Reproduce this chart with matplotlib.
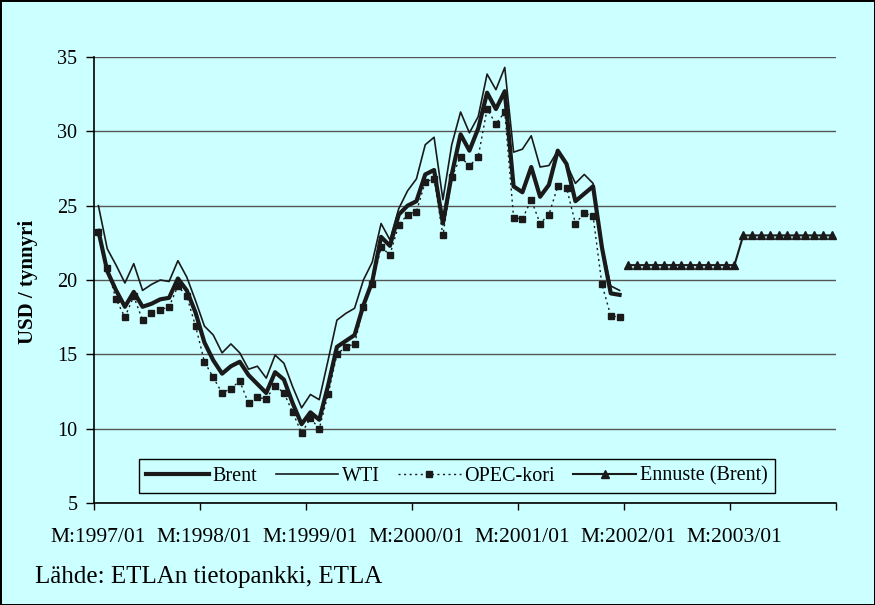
import numpy as np
import matplotlib
matplotlib.use("Agg")
import matplotlib.pyplot as plt
from matplotlib.ticker import FixedLocator, NullFormatter

# Monthly data, 1997/01 - 2001/12 (USD / barrel)
brent = [23.3, 20.6, 19.3, 18.2, 19.2, 18.2, 18.4, 18.7, 18.8, 20.1, 19.3, 17.8,
         15.8, 14.6, 13.7, 14.2, 14.5, 13.6, 13.0, 12.4, 13.8, 13.3, 11.7, 10.3,
         11.1, 10.6, 12.9, 15.5, 15.9, 16.3, 18.3, 19.9, 22.9, 22.3, 24.4, 25.0,
         25.3, 27.1, 27.4, 23.8, 27.1, 29.8, 28.7, 30.2, 32.6, 31.5, 32.7, 26.3,
         25.9, 27.6, 25.6, 26.4, 28.7, 27.8, 25.3, 25.8, 26.3, 22.2, 19.1, 19.0]
wti = [25.0, 22.1, 21.0, 19.8, 21.1, 19.3, 19.7, 20.0, 19.9, 21.3, 20.2, 18.6,
       16.9, 16.3, 15.1, 15.7, 15.1, 14.0, 14.2, 13.4, 14.95, 14.4, 12.8, 11.4,
       12.3, 11.95, 14.6, 17.3, 17.75, 18.1, 20.0, 21.2, 23.8, 22.7, 24.8, 26.0,
       26.8, 29.1, 29.6, 25.4, 29.1, 31.3, 29.9, 31.0, 33.85, 32.8, 34.3, 28.6,
       28.8, 29.7, 27.6, 27.7, 28.7, 27.8, 26.5, 27.1, 26.5, 22.3, 19.6, 19.3]
opec = [23.2, 20.8, 18.7, 17.5, 18.9, 17.3, 17.8, 18.0, 18.2, 19.6, 18.9, 16.9,
        14.5, 13.45, 12.4, 12.7, 13.2, 11.7, 12.1, 12.0, 12.9, 12.4, 11.1, 9.7,
        10.7, 10.0, 12.3, 15.0, 15.5, 15.7, 18.2, 19.7, 22.2, 21.7, 23.7, 24.4,
        24.6, 26.6, 26.8, 23.0, 26.9, 28.3, 27.65, 28.3, 31.5, 30.5, 31.3, 24.2,
        24.1, 25.4, 23.8, 24.4, 26.3, 26.2, 23.8, 24.5, 24.3, 19.7, 17.6, 17.5]
# Forecast 2002/01 - 2003/12
ennuste = [21.0] * 13 + [23.0] * 11

years = list(range(1997, 2004))
tick_labels = [f"M:{y}/01" for y in years]
n_months = 12 * len(years)

bg = "#CCFFFF"
font = ["Liberation Serif", "DejaVu Serif"]
plt.rcParams["font.family"] = font

fig = plt.figure(figsize=(8.75, 6.05), dpi=100, facecolor=bg)
fig.patch.set_edgecolor("black")
fig.patch.set_linewidth(2)
ax = fig.add_axes([94 / 875, 1 - 503 / 605, 742 / 875, 446 / 605])
ax.set_facecolor(bg)

x_hist = np.arange(len(brent))
x_fc = np.arange(len(brent), len(brent) + len(ennuste))

ax.plot(x_hist, brent, color="#1a1a1a", lw=3.0, label="Brent", zorder=4)
ax.plot(x_hist, wti, color="#1a1a1a", lw=1.2, label="WTI", zorder=3)
ax.plot(x_hist, opec, color="#1a1a1a", lw=1.0, ls=(0, (1.5, 2.5)),
        marker="s", ms=4.2, label="OPEC-kori", zorder=2)
ax.plot(x_fc, ennuste, color="#1a1a1a", lw=1.5, marker="^", ms=6,
        label="Ennuste (Brent)", zorder=3)

ax.set_xlim(-0.5, n_months - 0.5)
ax.set_ylim(5, 35)
ax.set_yticks(range(5, 36, 5))
ax.grid(axis="y", color="#555555", lw=1.0)
ax.set_axisbelow(True)

# tick marks at year boundaries, labels at first month of each year
ax.xaxis.set_major_locator(FixedLocator(np.arange(-0.5, n_months, 12)))
ax.xaxis.set_major_formatter(NullFormatter())
ax.xaxis.set_minor_locator(FixedLocator(np.arange(0, n_months - 1, 12)))
ax.set_xticklabels(tick_labels, minor=True)
ax.tick_params(axis="x", which="major", direction="out", length=5, width=1)
ax.tick_params(axis="x", which="minor", length=0, pad=18, labelsize=15.5)
ax.tick_params(axis="y", direction="out", length=6, width=1, pad=6, labelsize=14.5)

for side in ["top", "right"]:
    ax.spines[side].set_visible(False)
for side in ["left", "bottom"]:
    ax.spines[side].set_linewidth(1.2)

ax.set_ylabel("USD / tynnyri", fontsize=15, fontweight="bold")
ax.yaxis.set_label_coords(-0.075, 0.495)

leg = ax.legend(loc="center", bbox_to_anchor=(457 / 742 - 94 / 742, (503 - 476) / 446),
                ncol=4, frameon=True, fancybox=False, facecolor=bg, edgecolor="black",
                fontsize=14.5, handlelength=3.1, handletextpad=0.2, columnspacing=0.9,
                borderpad=0.35, numpoints=1)
leg.get_frame().set_linewidth(1.0)
leg.get_frame().set_alpha(1)

fig.text(35 / 875, 1 - 583 / 605, "Lähde: ETLAn tietopankki, ETLA",
         fontsize=18, va="baseline", ha="left")

fig.savefig("out.png", dpi=100, facecolor=bg, edgecolor="black")
